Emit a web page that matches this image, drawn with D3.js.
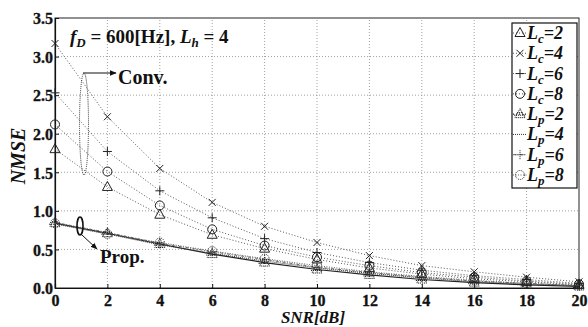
<!DOCTYPE html>
<html><head><meta charset="utf-8">
<script src="https://cdn.jsdelivr.net/npm/d3@7"></script>
<style>
html,body{margin:0;padding:0;background:#fff;}
svg{display:block;}
text{font-family:"Liberation Serif","Times New Roman",serif;font-weight:bold;fill:#111;}
</style></head>
<body><svg id="c" width="588" height="327"></svg>
<script>
// ---- data ----
const snr = [0, 2, 4, 6, 8, 10, 12, 14, 16, 18, 20];
const xTicks = [0, 2, 4, 6, 8, 10, 12, 14, 16, 18, 20];
const yTicks = [0, 0.5, 1.0, 1.5, 2.0, 2.5, 3.0, 3.5];
const convLc2 = [1.80, 1.31, 0.95, 0.69, 0.51, 0.37, 0.26, 0.18, 0.12, 0.08, 0.04];
const convLc4 = [3.17, 2.22, 1.55, 1.11, 0.80, 0.59, 0.42, 0.29, 0.21, 0.14, 0.08];
const convLc6 = [2.53, 1.77, 1.26, 0.91, 0.64, 0.46, 0.33, 0.23, 0.16, 0.11, 0.06];
const convLc8 = [2.12, 1.51, 1.07, 0.76, 0.55, 0.40, 0.29, 0.20, 0.14, 0.09, 0.05];
const propLp2 = [0.84, 0.71, 0.57, 0.44, 0.33, 0.24, 0.17, 0.11, 0.07, 0.04, 0.02];
const propLp4 = [0.83, 0.70, 0.56, 0.45, 0.35, 0.26, 0.19, 0.13, 0.08, 0.05, 0.03];
const propLp6 = [0.85, 0.72, 0.58, 0.47, 0.37, 0.27, 0.20, 0.14, 0.09, 0.06, 0.03];
const propLp8 = [0.84, 0.70, 0.59, 0.48, 0.38, 0.29, 0.21, 0.15, 0.10, 0.06, 0.03];
const seriesNames = ["Lc=2", "Lc=4", "Lc=6", "Lc=8", "Lp=2", "Lp=4", "Lp=6", "Lp=8"];
const legendMain = ["L", "L", "L", "L", "L", "L", "L", "L"];
const legendSub = ["c", "c", "c", "c", "p", "p", "p", "p"];
const legendVal = ["=2", "=4", "=6", "=8", "=2", "=4", "=6", "=8"];

// ---- styles (not data) ----
const seriesData = [convLc2, convLc4, convLc6, convLc8, propLp2, propLp4, propLp6, propLp8];
const styles = [
  {m: "tri", dash: "1,2", sw: 0.9, col: "#444", mdash: null},
  {m: "x", dash: "1,2", sw: 0.9, col: "#444", mdash: null},
  {m: "plus", dash: "1,2", sw: 0.9, col: "#444", mdash: null},
  {m: "circ", dash: "1,2", sw: 0.9, col: "#444", mdash: null},
  {m: "tri2", dash: null, sw: 1.2, col: "#222", mdash: "1.2,0.8"},
  {m: "none", dash: "1,1", sw: 1, col: "#333", mdash: null},
  {m: "plus", dash: "3,1.5,1,1.5", sw: 0.9, col: "#555", mdash: "1,1"},
  {m: "circ", dash: "1,1.5", sw: 0.9, col: "#555", mdash: "1,1"}
];

const svg = d3.select("#c");
const x = d3.scaleLinear().domain([0, 20]).range([55, 579]);
const y = d3.scaleLinear().domain([0, 3.5]).range([288, 18]);

function markerPath(t) {
  const p = d3.path();
  if (t === "tri" || t === "tri2") { p.moveTo(0, -5.5); p.lineTo(5, 3.5); p.lineTo(-5, 3.5); p.closePath(); if (t === "tri2") { p.moveTo(-6, 1); p.lineTo(6, 1); p.moveTo(-3, -1.5); p.lineTo(3, -1.5); } }
  else if (t === "x") { p.moveTo(-3.5, -3.5); p.lineTo(3.5, 3.5); p.moveTo(3.5, -3.5); p.lineTo(-3.5, 3.5); }
  else if (t === "plus") { p.moveTo(-4.5, 0); p.lineTo(4.5, 0); p.moveTo(0, -4.5); p.lineTo(0, 4.5); }
  else if (t === "circ") { p.moveTo(4.5, 0); p.arc(0, 0, 4.5, 0, 2 * Math.PI); }
  return t === "none" ? "" : p.toString();
}

// grid
const g = svg.append("g");
g.selectAll(".gx").data(xTicks.slice(1, -1)).join("line")
  .attr("x1", d => x(d)).attr("x2", d => x(d)).attr("y1", y(0)).attr("y2", y(3.5))
  .attr("stroke", "#888").attr("stroke-width", 0.8).attr("stroke-dasharray", "1,2");
g.selectAll(".gy").data(yTicks.slice(1, -1)).join("line")
  .attr("x1", x(0)).attr("x2", x(20)).attr("y1", d => y(d)).attr("y2", d => y(d))
  .attr("stroke", "#888").attr("stroke-width", 0.8).attr("stroke-dasharray", "1,2");

// frame
svg.append("rect").attr("x", x(0)).attr("y", y(3.5)).attr("width", x(20) - x(0)).attr("height", y(0) - y(3.5))
  .attr("fill", "none").attr("stroke", "#222").attr("stroke-width", 1);

// axes via d3
const xAxis = d3.axisBottom(x).tickValues(xTicks).tickSize(-4).tickPadding(6).tickFormat(d3.format("d"));
const yAxis = d3.axisLeft(y).tickValues(yTicks).tickSize(-4).tickPadding(2).tickFormat(d3.format(".1f"));
const gx = svg.append("g").attr("transform", `translate(0,${y(0)})`).call(xAxis);
const gy = svg.append("g").attr("transform", `translate(${x(0)},0)`).call(yAxis);
[gx, gy].forEach(a => {
  a.select(".domain").attr("stroke", "#111").attr("stroke-width", 1.2);
  a.selectAll(".tick line").attr("stroke", "#111");
  a.selectAll("text").attr("font-family", "Liberation Serif").attr("font-weight", "bold").attr("font-size", 16)
    .attr("fill", "#111").attr("stroke", "#111").attr("stroke-width", 0.3);
});
gx.selectAll(".tick text").attr("dy", "0.76em");
gy.selectAll(".tick text").attr("dy", "0.36em");

// lines + markers
const line = d3.line().x((d, i) => x(snr[i])).y(d => y(d));
seriesData.forEach((vals, k) => {
  const s = styles[k];
  svg.append("path").attr("d", line(vals)).attr("fill", "none").attr("stroke", s.col)
    .attr("stroke-width", s.sw).attr("stroke-dasharray", s.dash);
  if (s.m !== "none") {
    svg.append("g").selectAll("path").data(vals).join("path")
      .attr("transform", (d, i) => `translate(${x(snr[i])},${y(d)})`)
      .attr("d", markerPath(s.m)).attr("fill", "none").attr("stroke", "#222").attr("stroke-width", 1)
      .attr("stroke-dasharray", s.mdash);
  }
});

// annotations
const ann = svg.append("text").attr("x", 70).attr("y", 43).attr("font-size", 19);
ann.append("tspan").attr("font-style", "italic").text("f");
ann.append("tspan").attr("font-style", "italic").attr("font-size", 13).attr("dy", 4).text("D");
ann.append("tspan").attr("dy", -4).text(" = 600[Hz], ");
ann.append("tspan").attr("font-style", "italic").text("L");
ann.append("tspan").attr("font-style", "italic").attr("font-size", 13).attr("dy", 4).text("h");
ann.append("tspan").attr("dy", -4).text(" = 4");

svg.append("defs").append("marker").attr("id", "ah").attr("viewBox", "0 0 10 10").attr("refX", 9).attr("refY", 5)
  .attr("markerWidth", 7).attr("markerHeight", 7).attr("orient", "auto")
  .append("path").attr("d", "M0,1 L10,5 L0,9 Z").attr("fill", "#111");

svg.append("ellipse").attr("cx", 84).attr("cy", 124).attr("rx", 4.5).attr("ry", 51)
  .attr("fill", "none").attr("stroke", "#333").attr("stroke-width", 1).attr("stroke-dasharray", "1,1");
svg.append("line").attr("x1", 83).attr("y1", 73).attr("x2", 116).attr("y2", 73)
  .attr("stroke", "#111").attr("stroke-width", 1).attr("marker-end", "url(#ah)");
svg.append("text").attr("x", 118).attr("y", 84).attr("font-size", 20).text("Conv.");

svg.append("ellipse").attr("cx", 80).attr("cy", 226).attr("rx", 3).attr("ry", 9)
  .attr("fill", "none").attr("stroke", "#111").attr("stroke-width", 1.6);
svg.append("line").attr("x1", 82).attr("y1", 235).attr("x2", 97).attr("y2", 249)
  .attr("stroke", "#111").attr("stroke-width", 1).attr("marker-end", "url(#ah)");
svg.append("text").attr("x", 100).attr("y", 263).attr("font-size", 19).text("Prop.");

// axis titles
svg.append("text").attr("transform", "translate(25,156) rotate(-90)").attr("text-anchor", "middle")
  .attr("font-size", 20).attr("font-style", "italic").text("NMSE");
svg.append("text").attr("x", 313).attr("y", 322.5).attr("text-anchor", "middle")
  .attr("font-size", 17).attr("font-style", "italic").text("SNR[dB]");

// legend
const lg = svg.append("g");
lg.append("rect").attr("x", 512).attr("y", 23).attr("width", 65).attr("height", 165)
  .attr("fill", "#fff").attr("stroke", "#111").attr("stroke-width", 1.2);
const ly = d3.scaleLinear().domain([0, 7]).range([33, 175]);
seriesNames.forEach((nm, k) => {
  const s = styles[k];
  const yy = ly(k);
  lg.append("line").attr("x1", 513).attr("x2", 527).attr("y1", yy).attr("y2", yy)
    .attr("stroke", s.col).attr("stroke-width", s.sw).attr("stroke-dasharray", s.dash || "1,2");
  if (s.m !== "none") {
    lg.append("path").attr("transform", `translate(520,${yy})`).attr("d", markerPath(s.m))
      .attr("fill", "none").attr("stroke", "#222").attr("stroke-width", 1).attr("stroke-dasharray", s.mdash);
  }
  const t = lg.append("text").attr("x", 527).attr("y", yy + 6).attr("font-size", 18).attr("font-style", "italic");
  t.append("tspan").text(legendMain[k]);
  t.append("tspan").attr("font-size", 13).attr("dy", 4).text(legendSub[k]);
  t.append("tspan").attr("dy", -4).text(legendVal[k]);
});
</script></body></html>
